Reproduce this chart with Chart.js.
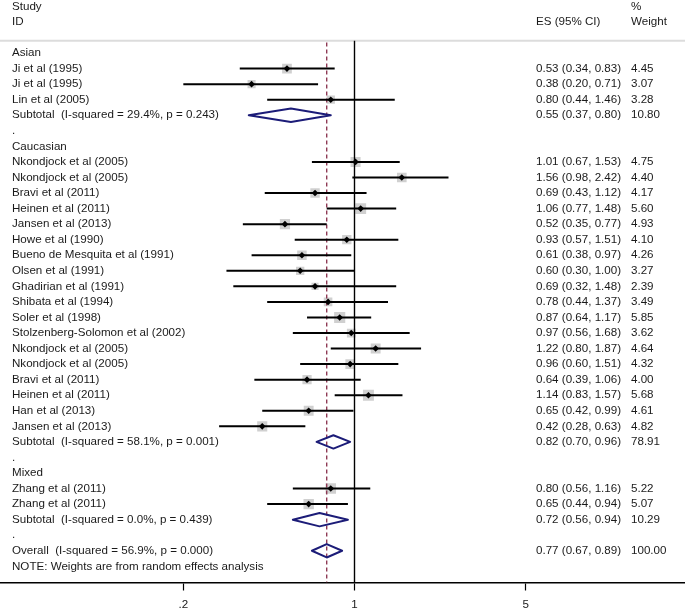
<!DOCTYPE html>
<html>
<head>
<meta charset="utf-8">
<script src="https://cdn.jsdelivr.net/npm/chart.js@4.4.1/dist/chart.umd.min.js"></script>
<style>
html,body{margin:0;padding:0;background:#fff;}
#wrap{position:relative;width:685px;height:609px;}
</style>
</head>
<body>
<div id="wrap"><canvas id="c"></canvas></div>
<script>
// ---------------- data ----------------
const groupNames = ['Asian', 'Caucasian', 'Mixed'];

const studyNames = [
  'Ji et al (1995)', 'Ji et al (1995)', 'Lin et al (2005)',
  'Nkondjock et al (2005)', 'Nkondjock et al (2005)', 'Bravi et al (2011)', 'Heinen et al (2011)',
  'Jansen et al (2013)', 'Howe et al (1990)', 'Bueno de Mesquita et al (1991)', 'Olsen et al (1991)',
  'Ghadirian et al (1991)', 'Shibata et al (1994)', 'Soler et al (1998)', 'Stolzenberg-Solomon et al (2002)',
  'Nkondjock et al (2005)', 'Nkondjock et al (2005)', 'Bravi et al (2011)', 'Heinen et al (2011)',
  'Han et al (2013)', 'Jansen et al (2013)',
  'Zhang et al (2011)', 'Zhang et al (2011)'
];
const studyGroup = [0,0,0, 1,1,1,1,1,1,1,1,1,1,1,1,1,1,1,1,1,1, 2,2];
const studyES = [0.53,0.38,0.80, 1.01,1.56,0.69,1.06,0.52,0.93,0.61,0.60,0.69,0.78,0.87,0.97,1.22,0.96,0.64,1.14,0.65,0.42, 0.80,0.65];
const studyLo = [0.34,0.20,0.44, 0.67,0.98,0.43,0.77,0.35,0.57,0.38,0.30,0.32,0.44,0.64,0.56,0.80,0.60,0.39,0.83,0.42,0.28, 0.56,0.44];
const studyHi = [0.83,0.71,1.46, 1.53,2.42,1.12,1.48,0.77,1.51,0.97,1.00,1.48,1.37,1.17,1.68,1.87,1.51,1.06,1.57,0.99,0.63, 1.16,0.94];
const studyWeight = [4.45,3.07,3.28, 4.75,4.40,4.17,5.60,4.93,4.10,4.26,3.27,2.39,3.49,5.85,3.62,4.64,4.32,4.00,5.68,4.61,4.82, 5.22,5.07];

const subES = [0.55, 0.82, 0.72];
const subLo = [0.37, 0.70, 0.56];
const subHi = [0.80, 0.96, 0.94];
const subWeight = [10.80, 78.91, 10.29];
const subI2 = ['29.4', '58.1', '0.0'];
const subP = ['0.243', '0.001', '0.439'];

const overallES = 0.77, overallLo = 0.67, overallHi = 0.89, overallWeight = 100.00;
const overallI2 = '56.9', overallP = '0.000';
const noteText = 'NOTE: Weights are from random effects analysis';

const xTicks = [0.2, 1, 5];
const xTickLabels = ['.2', '1', '5'];

// ---------------- layout constants ----------------
const FONT = '"Liberation Sans", Arial, Helvetica, sans-serif';
const FS = 11.6;
const TEXT = '#1a1a1a';
const NAVY = '#1c1c78';
const MAROON = '#8e3a55';
const Y_MIN = -3.41, Y_MAX = 34.04;
const HEADER_ROW = -0.79;
const X_MIN = Math.pow(10, -354.5 / 244.9);
const X_MAX = Math.pow(10, (685 - 354.5) / 244.9);
const DIA_H = 0.43;
const BOX_K = 4.6;

// ---------------- build rows ----------------
const fmt = v => v.toFixed(2);
const leftLabels = new Map([[-3, 'Study'], [-2, 'ID']]);
const esLabels = new Map([[-2, 'ES (95% CI)']]);
const wLabels = new Map([[-3, '%'], [-2, 'Weight']]);
const studyRow = [];
const diamonds = [];
let r = 0;
groupNames.forEach((g, gi) => {
  leftLabels.set(r++, g);
  studyNames.forEach((n, i) => {
    if (studyGroup[i] !== gi) return;
    studyRow[i] = r;
    leftLabels.set(r, n);
    esLabels.set(r, `${fmt(studyES[i])} (${fmt(studyLo[i])}, ${fmt(studyHi[i])})`);
    wLabels.set(r, fmt(studyWeight[i]));
    r++;
  });
  leftLabels.set(r, `Subtotal  (I-squared = ${subI2[gi]}%, p = ${subP[gi]})`);
  esLabels.set(r, `${fmt(subES[gi])} (${fmt(subLo[gi])}, ${fmt(subHi[gi])})`);
  wLabels.set(r, fmt(subWeight[gi]));
  diamonds.push({row: r, es: subES[gi], lo: subLo[gi], hi: subHi[gi]});
  r++;
  leftLabels.set(r++, '.');
});
leftLabels.set(r, `Overall  (I-squared = ${overallI2}%, p = ${overallP})`);
esLabels.set(r, `${fmt(overallES)} (${fmt(overallLo)}, ${fmt(overallHi)})`);
wLabels.set(r, fmt(overallWeight));
diamonds.push({row: r, es: overallES, lo: overallLo, hi: overallHi});
r++;
leftLabels.set(r, noteText);

// dataset data built from the values
const esPoints = studyES.map((v, i) => ({x: v, y: studyRow[i]}));
const ciData = [];
studyES.forEach((v, i) => {
  ciData.push({x: studyLo[i], y: studyRow[i]}, {x: studyHi[i], y: studyRow[i]}, {x: studyHi[i], y: null});
});
const diaData = [];
diamonds.forEach(d => {
  diaData.push({x: d.lo, y: d.row}, {x: d.es, y: d.row - DIA_H}, {x: d.hi, y: d.row},
               {x: d.es, y: d.row + DIA_H}, {x: d.lo, y: d.row}, {x: d.es, y: d.row - DIA_H}, {x: d.lo, y: null});
});

function zeroPad(s) { s.paddingTop = 0; s.paddingBottom = 0; s.paddingLeft = 0; s.paddingRight = 0; }

function labelAxis(map, pad) {
  return {
    type: 'linear', position: 'left', reverse: true, min: Y_MIN, max: Y_MAX, bounds: 'data',
    grid: {display: false}, border: {display: false},
    afterBuildTicks: s => { s.ticks = [...map.keys()].map(v => ({value: v})); },
    afterFit: s => { s.width = 0; zeroPad(s); },
    ticks: {
      mirror: true, padding: pad, autoSkip: false, color: TEXT,
      font: {family: FONT, size: FS},
      callback: v => (map.has(v) ? map.get(v) : '')
    }
  };
}

const lineDs = (data, color, width, extra) => Object.assign({
  data, showLine: true, borderColor: color, borderWidth: width, pointRadius: 0, pointHoverRadius: 0,
  backgroundColor: color, fill: false, spanGaps: false
}, extra || {});

const boxRadius = ctx => BOX_K * Math.sqrt(studyWeight[ctx.dataIndex]) / Math.SQRT2;

new Chart(document.getElementById('c'), {
  type: 'scatter',
  data: {
    datasets: [
      {data: esPoints, pointStyle: 'rectRot', pointRadius: 3.3, pointHoverRadius: 3.3,
       backgroundColor: '#000', borderColor: '#000', borderWidth: 0, showLine: false},
      lineDs(ciData, '#000', 2),
      lineDs(diaData, NAVY, 2, {borderJoinStyle: 'round'}),
      lineDs([{x: overallES, y: HEADER_ROW + 0.12}, {x: overallES, y: Y_MAX}], MAROON, 1.4, {borderDash: [4, 3]}),
      lineDs([{x: 1, y: HEADER_ROW}, {x: 1, y: Y_MAX}], '#000', 1.4),
      lineDs([{x: X_MIN, y: HEADER_ROW}, {x: X_MAX, y: HEADER_ROW}], '#dcdcdc', 2),
      {data: esPoints, pointStyle: 'rect', pointRadius: boxRadius, pointHoverRadius: boxRadius,
       backgroundColor: '#d0d0d0', borderColor: '#d0d0d0', borderWidth: 0, showLine: false}
    ]
  },
  options: {
    responsive: true, maintainAspectRatio: false, animation: false, events: [],
    layout: {padding: 0, autoPadding: false},
    plugins: {legend: {display: false}, tooltip: {enabled: false}, title: {display: false}},
    scales: {
      x: {
        type: 'logarithmic', position: 'bottom', min: X_MIN, max: X_MAX, bounds: 'data',
        afterBuildTicks: s => { s.ticks = xTicks.map(v => ({value: v})); },
        afterFit: s => { s.height = 26.5; zeroPad(s); },
        grid: {display: true, drawOnChartArea: false, drawTicks: true, tickLength: 8, color: '#000', tickWidth: 1.2},
        border: {display: true, color: '#000', width: 1.5},
        ticks: {padding: 7, autoSkip: false, maxRotation: 0, color: TEXT, font: {family: FONT, size: FS},
                callback: (v, i) => xTickLabels[i]}
      },
      y: labelAxis(leftLabels, 12),
      yES: labelAxis(esLabels, 536),
      yW: labelAxis(wLabels, 631)
    }
  }
});
</script>
</body>
</html>
